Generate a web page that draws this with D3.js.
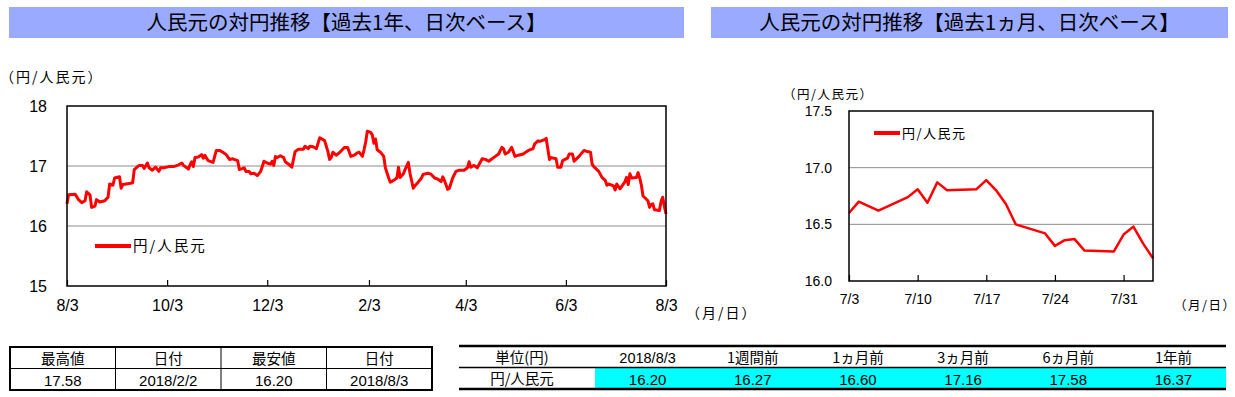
<!DOCTYPE html>
<html>
<head>
<meta charset="utf-8">
<script src="https://cdn.jsdelivr.net/npm/d3@7"></script>
<style>
    body { margin: 0; background: #fff; }
    svg text { font-family: "Noto Sans CJK JP", sans-serif; fill: #000; }
    .narrow { font-family: "Liberation Sans Narrow", "Liberation Sans", Arial, sans-serif !important; }
    .arial { font-family: "Liberation Sans", Arial, sans-serif !important; }
</style>
</head>
<body>
<svg id="chart" width="1235" height="397"></svg>
<script>
// Titles
const leftTitle = "人民元の対円推移【過去1年、日次ベース】";
const rightTitle = "人民元の対円推移【過去1ヵ月、日次ベース】";
const seriesName = "円/人民元";

// 1 year series, Aug 2017 - Jul 2 2018
const yearSeries = [
    ["2017-08-03",16.37],["2017-08-04",16.52],["2017-08-08",16.53],["2017-08-10",16.44],["2017-08-12",16.39],
    ["2017-08-14",16.42],["2017-08-15",16.57],["2017-08-17",16.52],["2017-08-18",16.31],["2017-08-20",16.33],
    ["2017-08-21",16.44],["2017-08-23",16.40],["2017-08-26",16.42],["2017-08-28",16.48],["2017-08-29",16.70],
    ["2017-08-31",16.68],["2017-09-01",16.80],["2017-09-04",16.82],["2017-09-05",16.63],["2017-09-06",16.69],
    ["2017-09-10",16.71],["2017-09-12",16.72],["2017-09-13",16.94],["2017-09-15",16.99],["2017-09-16",17.01],
    ["2017-09-18",17.01],["2017-09-19",16.96],["2017-09-21",17.05],["2017-09-22",16.97],["2017-09-24",16.93],
    ["2017-09-26",16.98],["2017-09-28",16.91],["2017-09-29",16.97],["2017-10-01",16.97],["2017-10-04",16.99],
    ["2017-10-07",16.99],["2017-10-10",17.02],["2017-10-12",17.05],["2017-10-13",17.01],["2017-10-16",16.95],
    ["2017-10-17",17.02],["2017-10-18",17.07],["2017-10-19",16.99],["2017-10-20",17.14],["2017-10-22",17.15],
    ["2017-10-24",17.19],["2017-10-25",17.13],["2017-10-26",17.18],["2017-10-27",17.13],["2017-10-28",17.09],
    ["2017-10-31",17.06],["2017-11-02",17.26],["2017-11-04",17.26],["2017-11-06",17.23],["2017-11-08",17.19],
    ["2017-11-10",17.11],["2017-11-12",17.12],["2017-11-15",17.09],["2017-11-16",16.94],["2017-11-19",16.97],
    ["2017-11-20",16.91],["2017-11-22",16.91],["2017-11-23",16.87],["2017-11-25",16.88],["2017-11-27",16.84],
    ["2017-11-29",16.91],["2017-11-30",16.99],["2017-12-01",17.08],["2017-12-03",17.05],["2017-12-05",17.03],
    ["2017-12-06",17.08],["2017-12-07",17.01],["2017-12-08",17.16],["2017-12-09",17.14],["2017-12-11",17.17],
    ["2017-12-13",17.14],["2017-12-14",17.07],["2017-12-16",17.03],["2017-12-18",16.98],["2017-12-20",17.24],
    ["2017-12-22",17.28],["2017-12-25",17.28],["2017-12-26",17.33],["2017-12-28",17.29],["2017-12-29",17.33],
    ["2017-12-31",17.32],["2018-01-02",17.29],["2018-01-04",17.47],["2018-01-06",17.44],["2018-01-07",17.42],
    ["2018-01-09",17.24],["2018-01-10",17.11],["2018-01-11",17.14],["2018-01-12",17.23],["2018-01-14",17.18],
    ["2018-01-16",17.22],["2018-01-18",17.28],["2018-01-19",17.31],["2018-01-21",17.31],["2018-01-23",17.16],
    ["2018-01-25",17.18],["2018-01-27",17.22],["2018-01-28",17.23],["2018-01-30",17.16],["2018-01-31",17.27],
    ["2018-02-01",17.40],["2018-02-02",17.58],["2018-02-04",17.56],["2018-02-05",17.52],["2018-02-06",17.38],
    ["2018-02-07",17.45],["2018-02-08",17.27],["2018-02-10",17.23],["2018-02-12",17.16],["2018-02-13",16.97],
    ["2018-02-15",16.80],["2018-02-16",16.73],["2018-02-18",16.76],["2018-02-20",16.80],["2018-02-21",16.98],
    ["2018-02-22",16.81],["2018-02-24",16.87],["2018-02-25",16.94],["2018-02-27",17.06],["2018-02-28",16.88],
    ["2018-03-02",16.63],["2018-03-03",16.67],["2018-03-05",16.73],["2018-03-07",16.80],["2018-03-08",16.86],
    ["2018-03-11",16.88],["2018-03-13",16.86],["2018-03-15",16.80],["2018-03-17",16.78],["2018-03-19",16.74],
    ["2018-03-20",16.82],["2018-03-21",16.76],["2018-03-23",16.61],["2018-03-24",16.63],["2018-03-26",16.80],
    ["2018-03-28",16.91],["2018-03-30",16.93],["2018-04-02",16.93],["2018-04-04",16.97],["2018-04-05",17.07],
    ["2018-04-06",16.98],["2018-04-08",17.01],["2018-04-10",16.97],["2018-04-11",17.02],["2018-04-13",17.12],
    ["2018-04-15",17.11],["2018-04-17",17.08],["2018-04-19",17.12],["2018-04-21",17.16],["2018-04-23",17.20],
    ["2018-04-25",17.31],["2018-04-26",17.29],["2018-04-27",17.20],["2018-04-29",17.23],["2018-05-01",17.31],
    ["2018-05-03",17.16],["2018-05-05",17.18],["2018-05-08",17.20],["2018-05-10",17.24],["2018-05-12",17.27],
    ["2018-05-14",17.29],["2018-05-15",17.37],["2018-05-17",17.42],["2018-05-18",17.41],["2018-05-19",17.42],
    ["2018-05-21",17.44],["2018-05-22",17.46],["2018-05-24",17.11],["2018-05-25",17.14],["2018-05-28",17.12],
    ["2018-05-29",16.98],["2018-05-31",16.98],["2018-06-01",17.09],["2018-06-04",17.13],["2018-06-05",17.20],
    ["2018-06-07",17.20],["2018-06-08",17.08],["2018-06-11",17.16],["2018-06-14",17.26],["2018-06-16",17.24],
    ["2018-06-18",17.23],["2018-06-19",17.03],["2018-06-20",16.99],["2018-06-23",16.91],["2018-06-25",16.81],
    ["2018-06-27",16.76],["2018-06-28",16.68],["2018-06-29",16.70],["2018-07-02",16.67]
];

// last month, daily
const monthSeries = [
    ["2018-07-03",16.60],["2018-07-04",16.70],["2018-07-06",16.62],["2018-07-09",16.74],["2018-07-10",16.81],
    ["2018-07-11",16.69],["2018-07-12",16.87],["2018-07-13",16.80],["2018-07-16",16.81],["2018-07-17",16.89],
    ["2018-07-18",16.80],["2018-07-19",16.68],["2018-07-20",16.50],["2018-07-23",16.42],["2018-07-24",16.31],
    ["2018-07-25",16.36],["2018-07-26",16.37],["2018-07-27",16.27],["2018-07-30",16.26],["2018-07-31",16.41],
    ["2018-08-01",16.48],["2018-08-02",16.33],["2018-08-03",16.20]
];

const yearTicks = ["2017-08-03","2017-10-03","2017-12-03","2018-02-03","2018-04-03","2018-06-03","2018-08-03"];
const yearYTicks = [15, 16, 17, 18];
const monthTicks = ["2018-07-03","2018-07-10","2018-07-17","2018-07-24","2018-07-31"];
const monthYTicks = [16.0, 16.5, 17.0, 17.5];

// tables
const summaryHeaders = ["最高値", "日付", "最安値", "日付"];
const summaryValues = ["17.58", "2018/2/2", "16.20", "2018/8/3"];
const compareHeaders = ["単位(円)", "2018/8/3", "1週間前", "1ヵ月前", "3ヵ月前", "6ヵ月前", "1年前"];
const compareLabel = "円/人民元";
const compareValues = ["16.20", "16.27", "16.60", "17.16", "17.58", "16.37"];

const parse = d3.timeParse("%Y-%m-%d");
const fmt = d3.timeFormat("%-m/%-d");
const svg = d3.select("#chart");

function toPoints(arr) {
    return arr.map(d => ({ date: parse(d[0]), value: d[1] }));
}

// Title bars
function titleBar(x0, x1, text) {
    svg.append("rect").attr("x", x0).attr("y", 7).attr("width", x1 - x0).attr("height", 31)
        .attr("fill", "#99AAFF");
    svg.append("text").attr("x", (x0 + x1) / 2).attr("y", 23).attr("dy", "0.36em")
        .attr("text-anchor", "middle").style("font-size", "20.5px").text(text);
}
titleBar(9, 684, leftTitle);
titleBar(711, 1228, rightTitle);

// Generic chart drawing
function drawChart(opt) {
    const x = d3.scaleTime().domain(opt.xDomain).range([opt.left, opt.right]);
    const y = d3.scaleLinear().domain(opt.yDomain).range([opt.bottom, opt.top]);
    const g = svg.append("g");

    // gridlines
    g.selectAll(".grid")
        .data(opt.yTicks.filter(v => v > opt.yDomain[0] && v < opt.yDomain[1]))
        .enter().append("line")
        .attr("x1", opt.left).attr("x2", opt.right)
        .attr("y1", d => y(d)).attr("y2", d => y(d))
        .attr("stroke", "#8c8c8c").attr("stroke-width", 1);

    // line
    const line = d3.line().x(d => x(d.date)).y(d => y(d.value));
    g.append("path").datum(opt.data)
        .attr("d", line)
        .attr("fill", "none")
        .attr("stroke", "#ff0000")
        .attr("stroke-width", opt.lineWidth)
        .attr("stroke-linejoin", "round");

    // frame
    g.append("rect").attr("x", opt.left).attr("y", opt.top)
        .attr("width", opt.right - opt.left).attr("height", opt.bottom - opt.top)
        .attr("fill", "none").attr("stroke", "#000").attr("stroke-width", 1.5);

    // x axis
    const xAxis = d3.axisBottom(x)
        .tickValues(opt.xTicks.map(parse))
        .tickFormat(fmt)
        .tickSizeInner(-6).tickSizeOuter(0)
        .tickPadding(opt.xPad);
    const xg = g.append("g").attr("transform", `translate(0,${opt.bottom})`).call(xAxis);
    xg.select(".domain").remove();
    xg.selectAll(".tick line").attr("stroke", "#000").attr("stroke-width", 1.2);
    xg.selectAll("text").attr("class", opt.fontClass).style("font-size", opt.fontSize + "px").attr("fill", "#000");

    // y axis
    const yAxis = d3.axisLeft(y)
        .tickValues(opt.yTicks)
        .tickFormat(opt.yFormat)
        .tickSize(0)
        .tickPadding(opt.yPad);
    const yg = g.append("g").attr("transform", `translate(${opt.left},0)`).call(yAxis);
    yg.select(".domain").remove();
    yg.selectAll("text").attr("class", opt.fontClass).style("font-size", opt.fontSize + "px").attr("fill", "#000");

    // unit labels
    g.append("text").attr("x", opt.unitX).attr("y", opt.unitY).attr("dy", "0.36em")
        .style("font-size", opt.unitFont + "px").style("letter-spacing", opt.spacing + "px")
        .text("（円/人民元）");
    g.append("text").attr("x", opt.dayX).attr("y", opt.dayY).attr("dy", "0.36em")
        .style("font-size", opt.unitFont + "px").style("letter-spacing", opt.spacing + "px")
        .text("（月/日）");

    // legend
    g.append("line").attr("x1", opt.legX).attr("x2", opt.legX + opt.legLen)
        .attr("y1", opt.legY).attr("y2", opt.legY)
        .attr("stroke", "#ff0000").attr("stroke-width", 4);
    g.append("text").attr("x", opt.legX + opt.legLen + 2).attr("y", opt.legY).attr("dy", "0.36em")
        .style("font-size", opt.legFont + "px").style("letter-spacing", opt.spacing + "px")
        .text(seriesName);
}

const yearData = toPoints(yearSeries).concat(toPoints(monthSeries));

drawChart({
    data: yearData,
    xDomain: [parse("2017-08-03"), parse("2018-08-03")],
    yDomain: [15, 18],
    left: 67, right: 666, top: 106, bottom: 286,
    xTicks: yearTicks, yTicks: yearYTicks, yFormat: d3.format("d"),
    xPad: 14, yPad: 20, fontSize: 16, fontClass: "narrow",
    lineWidth: 3,
    unitX: 0, unitY: 77, dayX: 686, dayY: 313, unitFont: 14, spacing: 2,
    legX: 95, legY: 246, legLen: 36, legFont: 14.5
});

drawChart({
    data: toPoints(monthSeries),
    xDomain: [parse("2018-07-03"), parse("2018-08-03")],
    yDomain: [16, 17.5],
    left: 849, right: 1153, top: 111, bottom: 281,
    xTicks: monthTicks, yTicks: monthYTicks, yFormat: d3.format(".1f"),
    xPad: 13, yPad: 17, fontSize: 14, fontClass: "arial",
    lineWidth: 2.5,
    unitX: 783, unitY: 94, dayX: 1174, dayY: 305, unitFont: 12.5, spacing: 1.5,
    legX: 874, legY: 133, legLen: 26, legFont: 13
});

// Summary table (left bottom)
const st = svg.append("g");
const sx = d3.scaleBand().domain(d3.range(summaryHeaders.length)).range([10, 432]);
const sRows = [summaryHeaders, summaryValues];
const sTop = 347, sRowH = 21.5;
sRows.forEach((row, r) => {
    st.selectAll(null).data(row).enter().append("text")
        .attr("x", (d, i) => sx(i) + sx.bandwidth() / 2)
        .attr("y", sTop + r * sRowH + sRowH / 2 + 1)
        .attr("dy", "0.36em")
        .attr("text-anchor", "middle")
        .attr("class", r === 1 ? "narrow" : null)
        .style("font-size", r === 1 ? "15px" : "14.5px")
        .text(d => d);
});
st.selectAll(".vline").data(d3.range(1, summaryHeaders.length)).enter().append("line")
    .attr("x1", i => sx(i)).attr("x2", i => sx(i))
    .attr("y1", sTop).attr("y2", sTop + 2 * sRowH)
    .attr("stroke", "#000").attr("stroke-width", 1);
st.append("line").attr("x1", 10).attr("x2", 432)
    .attr("y1", sTop + sRowH).attr("y2", sTop + sRowH)
    .attr("stroke", "#000").attr("stroke-width", 1);
st.append("rect").attr("x", 10).attr("y", sTop).attr("width", 422).attr("height", 2 * sRowH)
    .attr("fill", "none").attr("stroke", "#000").attr("stroke-width", 2);

// Comparison table (right bottom)
const ct = svg.append("g");
const cLeft = 459, cLabelRight = 595, cRight = 1226;
const cx = d3.scaleBand().domain(d3.range(compareValues.length)).range([cLabelRight, cRight]);
const cTop = 346, cRowH = 21.5;
ct.append("rect").attr("x", cLabelRight).attr("y", cTop + cRowH).attr("width", cRight - cLabelRight)
    .attr("height", cRowH).attr("fill", "#00ffff");
ct.append("text").attr("x", (cLeft + cLabelRight) / 2 - 5).attr("y", cTop + cRowH / 2 + 1).attr("dy", "0.36em")
    .attr("text-anchor", "middle").style("font-size", "14.5px").text(compareHeaders[0]);
ct.append("text").attr("x", (cLeft + cLabelRight) / 2 - 5).attr("y", cTop + cRowH * 1.5 + 1).attr("dy", "0.36em")
    .attr("text-anchor", "middle").style("font-size", "14.5px").text(compareLabel);
ct.selectAll(".ch").data(compareHeaders.slice(1)).enter().append("text")
    .attr("x", (d, i) => cx(i) + cx.bandwidth() / 2)
    .attr("y", cTop + cRowH / 2 + 1).attr("dy", "0.36em")
    .attr("text-anchor", "middle").style("font-size", i => "14.5px")
    .attr("class", (d, i) => i === 0 ? "narrow" : null)
    .text(d => d);
ct.selectAll(".cv").data(compareValues).enter().append("text")
    .attr("x", (d, i) => cx(i) + cx.bandwidth() / 2)
    .attr("y", cTop + cRowH * 1.5 + 1).attr("dy", "0.36em")
    .attr("text-anchor", "middle").style("font-size", "15px")
    .attr("class", "narrow")
    .text(d => d);
[[cTop, 2.5], [cTop + cRowH, 1.5], [cTop + 2 * cRowH, 2.5]].forEach(([yy, w]) => {
    ct.append("line").attr("x1", cLeft).attr("x2", cRight).attr("y1", yy).attr("y2", yy)
        .attr("stroke", "#000").attr("stroke-width", w);
});
</script>
</body>
</html>
